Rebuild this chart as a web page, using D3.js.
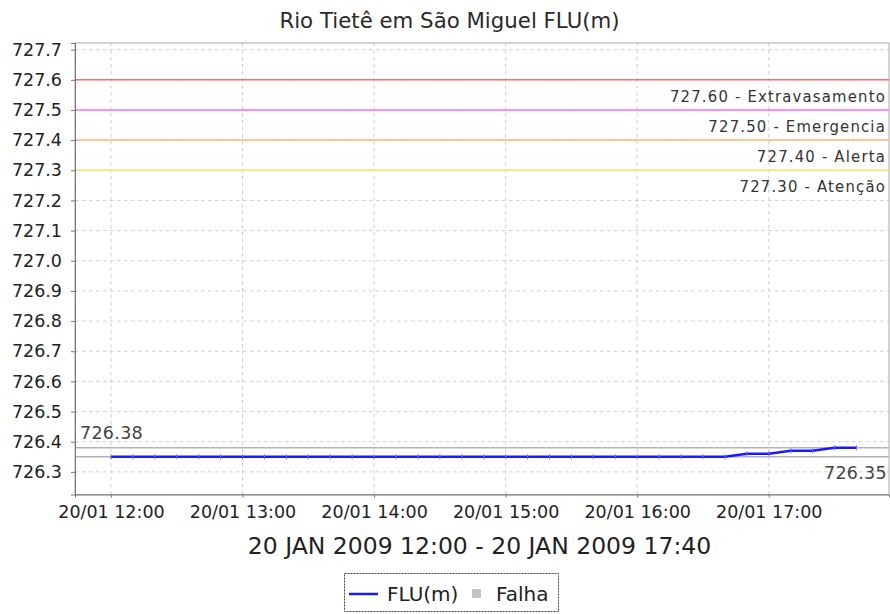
<!DOCTYPE html>
<html>
<head>
<meta charset="utf-8">
<script src="https://cdn.jsdelivr.net/npm/d3@7"></script>
<style>
  html, body { margin: 0; padding: 0; background: #fff; }
  svg { display: block; }
</style>
</head>
<body>
<svg id="chart" width="890" height="614"></svg>
<script>
// ---- data ----
const title = "Rio Tietê em São Miguel FLU(m)";
const axisTitle = "20 JAN 2009 12:00 - 20 JAN 2009 17:40";
const times = ["12:00","12:10","12:20","12:30","12:40","12:50",
  "13:00","13:10","13:20","13:30","13:40","13:50",
  "14:00","14:10","14:20","14:30","14:40","14:50",
  "15:00","15:10","15:20","15:30","15:40","15:50",
  "16:00","16:10","16:20","16:30","16:40","16:50",
  "17:00","17:10","17:20","17:30","17:40"];
const values = [726.35,726.35,726.35,726.35,726.35,726.35,
  726.35,726.35,726.35,726.35,726.35,726.35,
  726.35,726.35,726.35,726.35,726.35,726.35,
  726.35,726.35,726.35,726.35,726.35,726.35,
  726.35,726.35,726.35,726.35,726.35,726.36,
  726.36,726.37,726.37,726.38,726.38];
const thresholdValues = [727.60, 727.50, 727.40, 727.30];
const thresholdNames = ["Extravasamento", "Emergencia", "Alerta", "Atenção"];
const thresholdColors = ["#ff6a6a", "#ff6cff", "#ffb878", "#ffe85a"];
const maxValue = 726.38, minValue = 726.35;
const yTicks = [726.3,726.4,726.5,726.6,726.7,726.8,726.9,727.0,727.1,727.2,727.3,727.4,727.5,727.6,727.7];
const xTickHours = [12,13,14,15,16,17];
const legendItems = ["FLU(m)", "Falha"];

// ---- layout ----
const L = 75, R = 889, T = 43, B = 494.5;
const parse = s => { const [h,m] = s.split(":").map(Number); return new Date(2009,0,20,h,m); };
const data = times.map((t,i) => ({t: parse(t), v: values[i]}));

const x = d3.scaleTime()
  .domain([new Date(2009,0,20,11,43,36), new Date(2009,0,20,17,54,50)])
  .range([L, R]);
const y = d3.scaleLinear().domain([726.225, 727.722]).range([B, T]);

const svg = d3.select("#chart");
const FONT = "DejaVu Sans, sans-serif";

// title
svg.append("text").attr("x", 449.5).attr("y", 28).attr("text-anchor","middle")
  .attr("font-family", FONT).attr("font-size", 21.3).attr("fill","#2a2a2a").text(title);

// grid
const grid = svg.append("g");
grid.selectAll("line.h").data(yTicks).enter().append("line")
  .attr("x1", L).attr("x2", R).attr("y1", d => y(d)).attr("y2", d => y(d))
  .attr("stroke", "#cfcfcf").attr("stroke-width", 1).attr("stroke-dasharray", "3.5,3.5");
const xTicks = xTickHours.map(h => new Date(2009,0,20,h,0));
grid.selectAll("line.v").data(xTicks).enter().append("line")
  .attr("x1", d => x(d)).attr("x2", d => x(d)).attr("y1", T).attr("y2", B)
  .attr("stroke", "#cfcfcf").attr("stroke-width", 1).attr("stroke-dasharray", "3.5,3.5");

// plot outline
svg.append("rect").attr("x", L).attr("y", T).attr("width", R - L).attr("height", B - T)
  .attr("fill", "none").attr("stroke", "#a8a8a8").attr("stroke-width", 1);

// threshold markers
const th = svg.append("g");
thresholdValues.forEach((v, i) => {
  th.append("line").attr("x1", L).attr("x2", R).attr("y1", y(v)).attr("y2", y(v))
    .attr("stroke", thresholdColors[i]).attr("stroke-width", 1.5);
  th.append("text").attr("x", 886).attr("y", y(v) + 22).attr("text-anchor", "end")
    .attr("font-family", "DejaVu Sans Condensed, DejaVu Sans, sans-serif")
    .attr("font-size", 16.5).attr("letter-spacing", 1.2).attr("fill", "#333")
    .text(d3.format(".2f")(v) + " - " + thresholdNames[i]);
});

// max / min markers
svg.append("line").attr("x1", L).attr("x2", R).attr("y1", y(maxValue)).attr("y2", y(maxValue))
  .attr("stroke", "#b4b4b4").attr("stroke-width", 1.5);
svg.append("line").attr("x1", L).attr("x2", R).attr("y1", y(minValue)).attr("y2", y(minValue))
  .attr("stroke", "#b4b4b4").attr("stroke-width", 1.5);
svg.append("text").attr("x", 80).attr("y", y(maxValue) - 9).attr("font-family", FONT)
  .attr("font-size", 17.5).attr("letter-spacing", 0.3).attr("fill", "#444").text(d3.format(".2f")(maxValue));
svg.append("text").attr("x", 887).attr("y", y(minValue) + 22).attr("text-anchor","end").attr("font-family", FONT)
  .attr("font-size", 17.5).attr("letter-spacing", 0.3).attr("fill", "#444").text(d3.format(".2f")(minValue));

// series line
const line = d3.line().x(d => x(d.t)).y(d => y(d.v));
svg.append("path").datum(data).attr("d", line).attr("fill", "none")
  .attr("stroke", "#1a1aff").attr("stroke-width", 2.5).attr("stroke-linejoin", "round");
svg.append("g").selectAll("line").data(data).enter().append("line")
  .attr("x1", d => x(d.t)).attr("x2", d => x(d.t))
  .attr("y1", d => y(d.v) - 2.5).attr("y2", d => y(d.v) + 2.5)
  .attr("stroke", "#6a6aff").attr("stroke-width", 1);

// axes
const yAxis = d3.axisLeft(y).tickValues(yTicks).tickFormat(d3.format(".1f")).tickSize(4).tickPadding(9);
const gy = svg.append("g").attr("transform", `translate(${L},0)`).call(yAxis);
gy.select(".domain").attr("stroke", "#777");
gy.selectAll(".tick line").attr("stroke", "#777");
gy.selectAll("text").attr("font-family", FONT).attr("font-size", 17.5).attr("fill", "#222");

const xAxis = d3.axisBottom(x).tickValues(xTicks).tickFormat(d3.timeFormat("%d/%m %H:%M")).tickSize(3).tickPadding(8);
const gx = svg.append("g").attr("transform", `translate(0,${B})`).call(xAxis);
gx.select(".domain").attr("stroke", "#777");
gx.selectAll(".tick line").attr("stroke", "#777");
gx.selectAll("text").attr("font-family", FONT).attr("font-size", 17.5).attr("fill", "#222");

svg.append("text").attr("x", 479.5).attr("y", 554).attr("text-anchor","middle")
  .attr("font-family", FONT).attr("font-size", 23.5).attr("fill", "#222").text(axisTitle);

// legend
const lg = svg.append("g");
lg.append("rect").attr("x", 344.5).attr("y", 573.5).attr("width", 214).attr("height", 38)
  .attr("fill", "#fff").attr("stroke", "#444").attr("stroke-dasharray", "2,1").attr("stroke-width", 1);
lg.append("line").attr("x1", 349).attr("x2", 378).attr("y1", 594).attr("y2", 594)
  .attr("stroke", "#1a1aff").attr("stroke-width", 2.5);
lg.append("text").attr("x", 387).attr("y", 601).attr("font-family", FONT).attr("font-size", 20)
  .attr("fill", "#222").text(legendItems[0]);
lg.append("rect").attr("x", 472).attr("y", 589).attr("width", 9).attr("height", 9).attr("fill", "#c4c4c4");
lg.append("text").attr("x", 496).attr("y", 601).attr("font-family", FONT).attr("font-size", 20)
  .attr("fill", "#222").text(legendItems[1]);
</script>
</body>
</html>
